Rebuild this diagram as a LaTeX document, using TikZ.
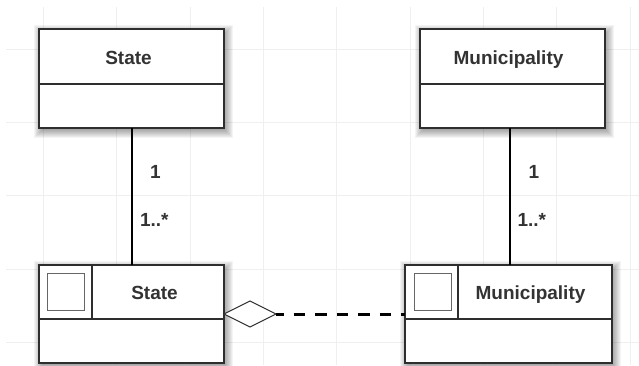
\documentclass[tikz,border=0pt]{standalone}
\usepackage{fontspec}
\setmainfont{Liberation Sans}
\usetikzlibrary{shapes.geometric}

\definecolor{boxline}{HTML}{2E2E2E}
\definecolor{textcol}{HTML}{333333}
\definecolor{gridcol}{HTML}{EFEFEF}
\definecolor{keycol}{HTML}{666666}

\pgfdeclarelayer{gridlayer}
\pgfdeclarelayer{shadowlayer}
\pgfsetlayers{gridlayer,shadowlayer,main}

% soft drop shadow behind a named box: stacked translucent rectangles
\newcommand\boxshadow[1]{%
  \foreach \r in {-3,...,7}
    \fill[black, opacity=0.045]
      ([shift={(2-\r,3-\r)}]#1.north west) rectangle ([shift={(2+\r,3+\r)}]#1.south east);}

\begin{document}
\begin{tikzpicture}[x=1pt,y=-1pt,
  every node/.style={inner sep=0pt, outer sep=0pt},
  gridline/.style={draw=gridcol, line width=0.8pt},
  classbox/.style={rectangle, draw=boxline, line width=1.3pt, fill=white},
  boxrule/.style={draw=boxline, line width=1.3pt},
  keybox/.style={rectangle, draw=keycol, line width=1pt, minimum width=37pt, minimum height=37pt},
  title/.style={font=\fontsize{19}{22}\selectfont\bfseries, text=textcol, anchor=base},
  mult/.style={font=\fontsize{19}{22}\selectfont\bfseries, text=textcol, anchor=base west},
  assoc/.style={draw=black, line width=2pt},
  depline/.style={draw=black, line width=3pt, dash pattern=on 11.5pt off 10pt, dash phase=4pt},
  aggdiamond/.style={diamond, draw=boxline, line width=1pt, fill=white,
    minimum width=52pt, minimum height=26pt, anchor=west}
]
\useasboundingbox (0,0) rectangle (639,365);

% background grid
\begin{pgfonlayer}{gridlayer}
  \fill[white] (0,0) rectangle (639,365);
  \foreach \gx in {43.3,116.7,190,263.3,336.7,410,483.3,556.7,630}
    \draw[gridline] (\gx,7) -- (\gx,365);
  \foreach \gy in {49,122.3,195.7,269,342.3}
    \draw[gridline] (6,\gy) -- (639,\gy);
\end{pgfonlayer}

% upper classes
\node[classbox, minimum width=185pt, minimum height=99pt] (stateTop) at (131.5,78.5) {};
\draw[boxrule] ([yshift=-55pt]stateTop.north west) -- ([yshift=-55pt]stateTop.north east);
\node[title] (stateTopName) at (128.5,64) {State};

\node[classbox, minimum width=185pt, minimum height=99pt] (muniTop) at (512.5,78.5) {};
\draw[boxrule] ([yshift=-55pt]muniTop.north west) -- ([yshift=-55pt]muniTop.north east);
\node[title] (muniTopName) at (508.5,64) {Municipality};

% lower classes with key compartment
\node[classbox, minimum width=185pt, minimum height=98pt] (stateBot) at (131.5,314) {};
\draw[boxrule] ([yshift=-54pt]stateBot.north west) -- ([yshift=-54pt]stateBot.north east);
\draw[boxrule] ([xshift=53pt]stateBot.north west) -- ++(0,54);
\node[keybox] (stateKey) at (66,291.5) {};
\node[title] (stateBotName) at (154.5,299) {State};

\node[classbox, minimum width=207pt, minimum height=98pt] (muniBot) at (508.5,314) {};
\draw[boxrule] ([yshift=-54pt]muniBot.north west) -- ([yshift=-54pt]muniBot.north east);
\draw[boxrule] ([xshift=53pt]muniBot.north west) -- ++(0,54);
\node[keybox] (muniKey) at (432.5,291.5) {};
\node[title] (muniBotName) at (530.5,299) {Municipality};

% shadows under the four classes
\begin{pgfonlayer}{shadowlayer}
  \boxshadow{stateTop}
  \boxshadow{muniTop}
  \boxshadow{stateBot}
  \boxshadow{muniBot}
\end{pgfonlayer}

% associations
\draw[assoc] (stateTop.south) -- (stateBot.north);
\coordinate (muniLink) at ([xshift=1pt]muniBot.north);
\draw[assoc] (muniTop.south -| muniLink) -- (muniLink);

% multiplicities
\node[mult] (stateOne) at (150,178) {1};
\node[mult] (stateMany) at (140,226.5) {1..*};
\node[mult] (muniOne) at (528.5,178) {1};
\node[mult] (muniMany) at (517.5,226.5) {1..*};

% aggregation
\node[aggdiamond] (agg) at (stateBot.east) {};
\draw[depline] (agg.east) -- (muniBot.west);
\end{tikzpicture}
\end{document}
